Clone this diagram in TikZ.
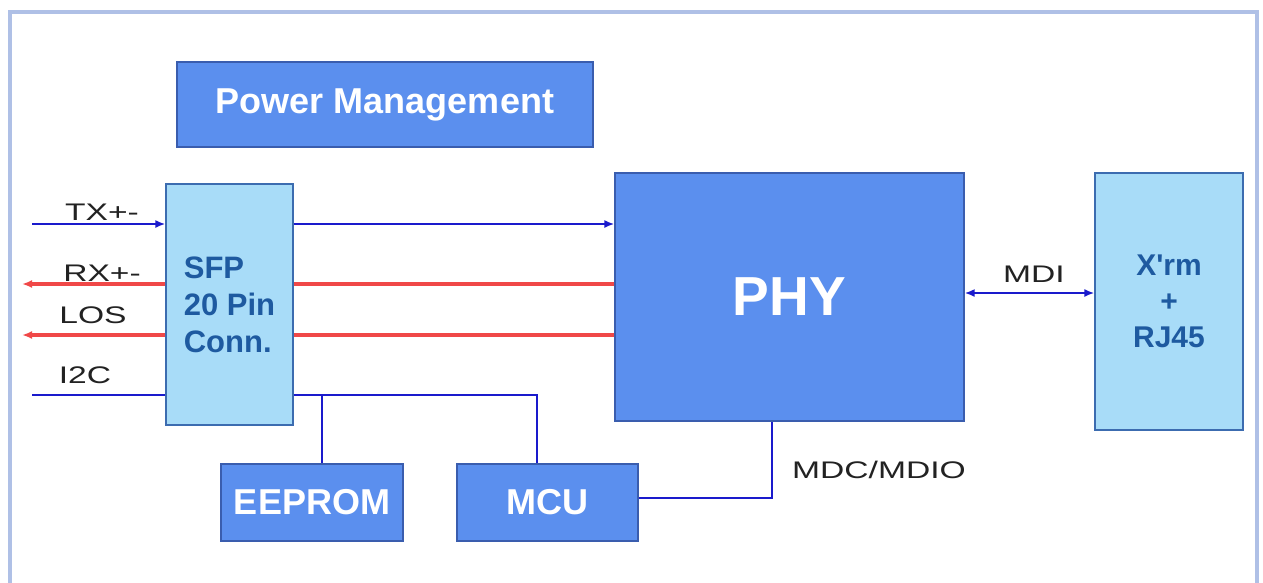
\documentclass[tikz,border=0pt]{standalone}
\usepackage{fontspec}
\setmainfont{Liberation Sans}[Ligatures=TeXOff]
\usetikzlibrary{arrows.meta}
\definecolor{darkbox}{HTML}{5B8FEE}
\definecolor{darkedge}{HTML}{3A5DAE}
\definecolor{lightbox}{HTML}{A8DCF8}
\definecolor{lightedge}{HTML}{3C6CB0}
\definecolor{lighttext}{HTML}{1E5AA0}
\definecolor{bluewire}{HTML}{1A1ACC}
\definecolor{redwire}{HTML}{F04848}
\definecolor{framec}{HTML}{AFC0E6}
\definecolor{labeltext}{HTML}{222222}
\tikzset{
  darkblock/.style={draw=darkedge, line width=1.2pt, fill=darkbox, text=white, font=\bfseries\fontsize{36}{40}\selectfont, inner sep=0pt},
  lightblock/.style={draw=lightedge, line width=1.2pt, fill=lightbox, text=lighttext, inner sep=0pt},
  bwire/.style={draw=bluewire, line width=2.8pt},
  rwire/.style={draw=redwire, line width=3.2pt},
  tip/.style={-{Latex[length=10pt,width=8pt]}},
  sig/.style={anchor=base, text=labeltext, font=\fontsize{24}{28}\selectfont, inner sep=0pt},
}
\begin{document}
\begin{tikzpicture}[x=1pt,y=-1pt]
\useasboundingbox (0,0) rectangle (1263,582);
\fill[white] (0,0) rectangle (1263,582);
% frame
\draw[framec, line width=3.5pt] (10,590) -- (10,12) -- (1257,12) -- (1257,590);
% blocks
\node[darkblock, minimum width=416pt, minimum height=85pt] (pm) at (385,104.5) {Power Management};
\node[lightblock, minimum width=127pt, minimum height=241pt, align=left,
  font=\bfseries\fontsize{31}{37}\selectfont] (sfp) at (229.5,304.5) {SFP\\20 Pin\\Conn.};
\node[darkblock, minimum width=349pt, minimum height=248pt, font=\bfseries\fontsize{55}{60}\selectfont] (phy) at (789.5,297) {PHY};
\node[lightblock, minimum width=148pt, minimum height=257pt, align=center,
  font=\bfseries\fontsize{30}{36}\selectfont] (xrm) at (1169,301.5) {X'rm\\+\\RJ45};
\node[darkblock, minimum width=182pt, minimum height=77pt] (eeprom) at (312,502.5) {EEPROM};
\node[darkblock, minimum width=181pt, minimum height=77pt] (mcu) at (547.5,502.5) {MCU};
% free ends
\coordinate (txin) at (32,224);
\coordinate (rxout) at (22,284);
\coordinate (losout) at (22,335);
\coordinate (i2cin) at (32,395);
\coordinate (busE) at (322,395);
\coordinate (busM) at (537,395);
\coordinate (mdcC) at (772,498);
% left side wires
\draw[bwire, tip] (txin) -- (txin -| sfp.west);
\draw[rwire, tip] (rxout -| sfp.west) -- (rxout);
\draw[rwire, tip] (losout -| sfp.west) -- (losout);
\draw[bwire] (i2cin) -- (i2cin -| sfp.west);
% SFP to PHY
\draw[bwire, tip] (txin -| sfp.east) -- (txin -| phy.west);
\draw[rwire] (rxout -| phy.west) -- (rxout -| sfp.east);
\draw[rwire] (losout -| phy.west) -- (losout -| sfp.east);
% I2C bus
\draw[bwire] (i2cin -| sfp.east) -- (busM) -- (busM |- mcu.north);
\draw[bwire] (busE) -- (busE |- eeprom.north);
% MDC/MDIO
\draw[bwire] (mcu.east |- mdcC) -- (mdcC) -- (mdcC |- phy.south);
% MDI
\draw[bwire, {Latex[length=10pt,width=8pt]}-{Latex[length=10pt,width=8pt]}] (phy.east |- 0,293) -- (xrm.west |- 0,293);
% labels
\node[sig] (ltx) at (102,220) {\scalebox{1.4}[1]{TX+-}};
\node[sig] (lrx) at (102,281) {\scalebox{1.4}[1]{RX+-}};
\node[sig] (llos) at (93,323) {\scalebox{1.4}[1]{LOS}};
\node[sig] (li2c) at (85,383) {\scalebox{1.4}[1]{I2C}};
\node[sig] (lmdi) at (1034,282) {\scalebox{1.4}[1]{MDI}};
\node[sig] (lmdc) at (879,478) {\scalebox{1.4}[1]{MDC/MDIO}};
\end{tikzpicture}
\end{document}
